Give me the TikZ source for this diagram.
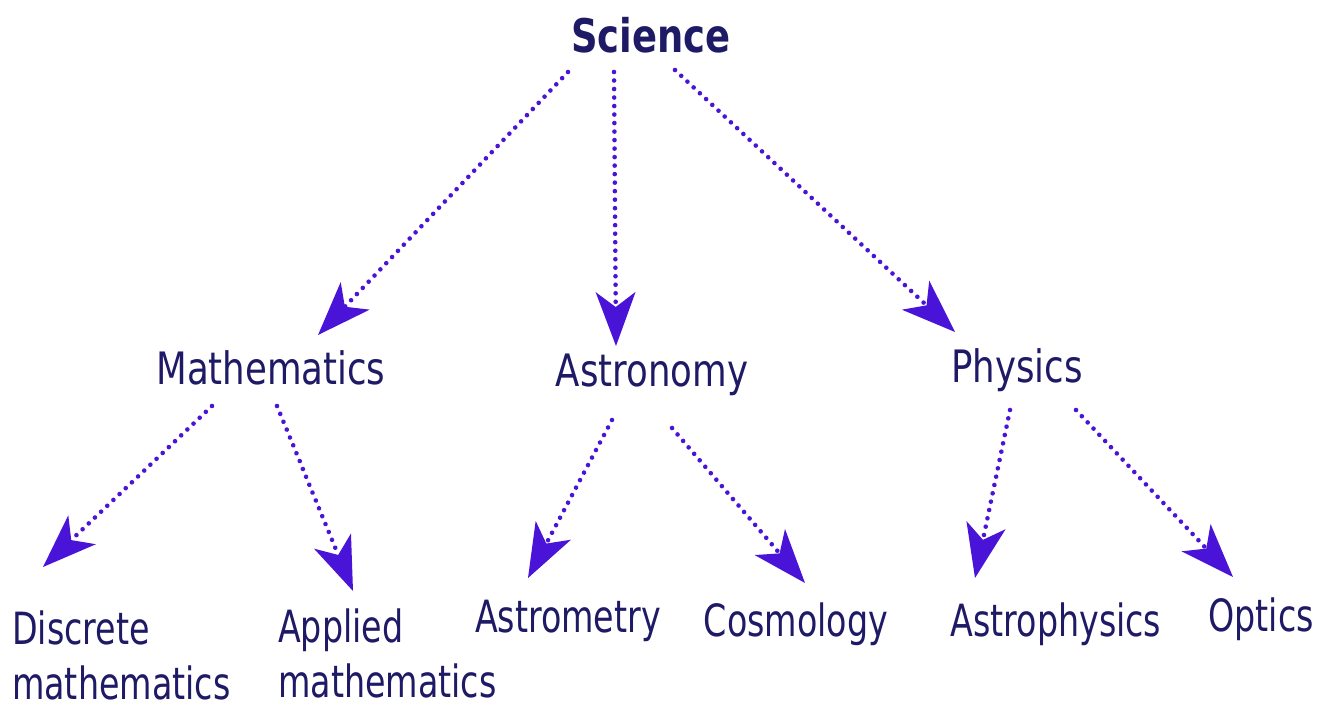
\documentclass[tikz,border=0pt]{standalone}
\usepackage{fontspec}
\usepackage{graphicx}
\setmainfont{DejaVu Sans Condensed}
\usetikzlibrary{arrows.meta,calc}
\definecolor{txt}{HTML}{1E1A66}
\definecolor{arrc}{HTML}{4A14D8}
\newcommand{\stx}[1]{\scalebox{1}[1.13]{#1}}
\newcommand{\sty}[1]{\scalebox{1}[1.2]{#1}}
\begin{document}
\begin{tikzpicture}[x=1pt,y=-1pt,
  lbl/.style={inner sep=0pt,text=txt,font=\fontsize{39.5}{55}\selectfont},
  leaf/.style={inner sep=0pt,text=txt,font=\fontsize{37}{55}\selectfont},
  toplbl/.style={inner sep=0pt,text=txt,font=\fontsize{41}{50}\selectfont\bfseries},
  arr/.style={draw=arrc,line width=4.6pt,line cap=round,dash pattern=on 0.01pt off 8.5pt,
     -{Stealth[length=54pt,width=40pt,inset=15pt,fill=arrc,line width=0pt,round]}}]
\useasboundingbox (0,0) rectangle (1318,708);
\fill[white] (0,0) rectangle (1318,708);
\node[toplbl] (sci) at (651,35) {\stx{Science}};
\node[lbl] (math) at (271,368) {\stx{Mathematics}};
\node[lbl] (ast) at (652,375) {\stx{Astronomy}};
\node[lbl] (phy) at (1017,370) {\stx{Physics}};
\node[leaf,align=left,anchor=west] (dis) at (12,655) {\sty{Discrete}\\\sty{mathematics}};
\node[leaf,align=left,anchor=west] (app) at (278,653) {\sty{Applied}\\\sty{mathematics}};
\node[leaf] (amt) at (568,621) {\sty{Astrometry}};
\node[leaf] (cos) at (796,624) {\sty{Cosmology}};
\node[leaf] (aph) at (1056,624) {\sty{Astrophysics}};
\node[leaf] (opt) at (1261,619) {\sty{Optics}};
\draw[arr] ($(sci)+(-83,37)$) -- ($(math)+(47,-33)$);
\draw[arr] ($(sci)+(-37,37)$) -- ($(ast)+(-36,-29)$);
\draw[arr] ($(sci)+(24,35)$) -- ($(phy)+(-62,-38)$);
\draw[arr] ($(math)+(-59,38)$) -- ($(dis.west)+(31,-88)$);
\draw[arr] ($(math)+(6,38)$) -- ($(app.west)+(75,-62)$);
\draw[arr] ($(ast)+(-40,45)$) -- ($(amt)+(-40,-43)$);
\draw[arr] ($(ast)+(20,53)$) -- ($(cos)+(9,-41)$);
\draw[arr] ($(phy)+(-7,40)$) -- ($(aph)+(-81,-46)$);
\draw[arr] ($(phy)+(59,40)$) -- ($(opt)+(-28,-42)$);
\end{tikzpicture}
\end{document}
